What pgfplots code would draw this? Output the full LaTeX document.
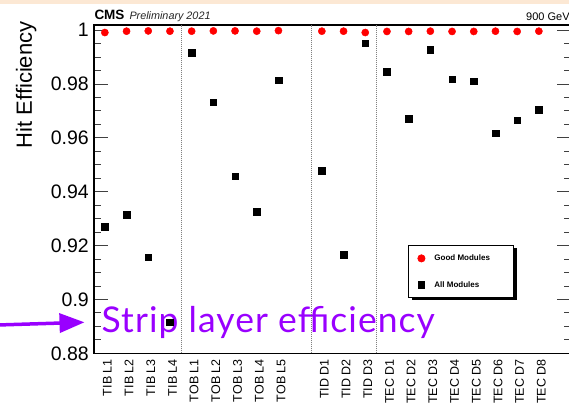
\documentclass[border=0pt]{standalone}
\usepackage{fontspec}
\setmainfont{Liberation Sans}
\newfontfamily\latofont[LetterSpace=3]{Lato}
\usepackage{pgfplots}
\pgfplotsset{compat=1.18}
\usetikzlibrary{arrows.meta}
\definecolor{peach}{RGB}{252,232,212}
\definecolor{violetx}{RGB}{153,0,255}
\begin{document}
\begin{tikzpicture}[x=1pt,y=1pt]
\useasboundingbox (0,0) rectangle (569,403);
\clip (0,0) rectangle (569,403);
\fill[white] (0,0) rectangle (569,403);
\fill[peach] (0,398.5) rectangle (569,403);
\node[anchor=base west, inner sep=0pt, text=violetx, font=\latofont\fontsize{35.5}{40}\selectfont] at (101.5,70.7) {Strip layer efficiency};
\draw[violetx, line width=3.5pt, -{Triangle[length=25pt,width=19pt]}] (-2,78.0) -- (84.5,80.7);
\node[anchor=base west, inner sep=0pt, font=\bfseries\fontsize{13.5}{15}\selectfont] at (94.3,383) {CMS};
\node[anchor=base west, inner sep=0pt, text=black!85, font=\itshape\fontsize{10.8}{12}\selectfont] at (129.3,383) {Preliminary 2021};
\node[anchor=base west, inner sep=0pt, font=\fontsize{11}{12}\selectfont] at (526,382.5) {900 GeV};
% legend shadow
\fill[black] (411.8,102.8) rectangle (516.8,154.5);
\begin{axis}[
  at={(94pt,49.7pt)}, anchor=south west,
  scale only axis, width=477.4pt, height=328.3pt,
  xmin=-0.5, xmax=21.5, ymin=0.88, ymax=1.0019,
  axis line style={line width=1.1pt},
  xtick={0,1,2,3,4,5,6,7,8,10,11,12,13,14,15,16,17,18,19,20},
  xticklabels={TIB L1,TIB L2,TIB L3,TIB L4,TOB L1,TOB L2,TOB L3,TOB L4,TOB L5,TID D1,TID D2,TID D3,TEC D1,TEC D2,TEC D3,TEC D4,TEC D5,TEC D6,TEC D7,TEC D8},
  every x tick/.style={draw=none},
  xticklabel style={font=\fontsize{12.5}{14}\selectfont, inner sep=0pt, xshift=2.5pt, yshift=-5.7pt, rotate=90, anchor=east},
  ytick={0.88,0.9,0.92,0.94,0.96,0.98,1},
  yticklabels={0.88,0.9,0.92,0.94,0.96,0.98,1},
  minor y tick num=3,
  major tick length=14pt, minor tick length=7pt,
  every y tick/.style={line width=0.9pt, black!75},
  yticklabel style={font=\fontsize{19.5}{22}\selectfont, inner sep=0pt, xshift=-5pt},
  ylabel={Hit Efficiency},
  ylabel style={at={(axis description cs:-0.1299,0.8173)}, anchor=base, font=\fontsize{22}{26}\selectfont, inner sep=0pt},
  legend style={at={(axis description cs:0.6584,0.3299)}, anchor=north west, draw=black, line width=0.8pt, fill=white,
    inner xsep=0pt, inner ysep=6.5pt, row sep=13.5pt, column sep=0pt,
    font=\bfseries\fontsize{8}{9.6}\selectfont, nodes={inner sep=0pt}},
  legend cell align=left,
  legend image code/.code={\path[draw=none,fill=none] (-12.7pt,-6.5pt) rectangle (13pt,6.5pt); \draw[#1] plot coordinates {(0pt,0pt)};},
]
\addplot[only marks, mark=*, mark size=3.6pt, color=red] coordinates {
(0,0.9991) (1,0.9996) (2,0.9997) (3,0.9996)
(4,0.9996) (5,0.9997) (6,0.9997) (7,0.9996) (8,0.9998)
(10,0.9996) (11,0.9996) (12,0.9991)
(13,0.9995) (14,0.9995) (15,0.9996) (16,0.9995) (17,0.9995) (18,0.9996) (19,0.9995) (20,0.9996)};
\addlegendentry{Good Modules\hspace*{23.3pt}}
\addplot[only marks, mark=square*, mark size=3.3pt, color=black] coordinates {
(0,0.9271) (1,0.9315) (2,0.9157) (3,0.8916)
(4,0.9916) (5,0.9732) (6,0.9458) (7,0.9325) (8,0.9814)
(10,0.9477) (11,0.9167) (12,0.9952)
(13,0.9845) (14,0.9672) (15,0.9928) (16,0.9818) (17,0.9810) (18,0.9617) (19,0.9665) (20,0.9704)};
\addlegendentry{All Modules}
\addplot[gray, line width=0.6pt, dash pattern=on 0.8pt off 1.2pt, forget plot] coordinates {(3.5,0.88) (3.5,1.0019)};
\addplot[gray, line width=0.6pt, dash pattern=on 0.8pt off 1.2pt, forget plot] coordinates {(9.5,0.88) (9.5,1.0019)};
\addplot[gray, line width=0.6pt, dash pattern=on 0.8pt off 1.2pt, forget plot] coordinates {(12.5,0.88) (12.5,1.0019)};
\end{axis}
\end{tikzpicture}
\end{document}
